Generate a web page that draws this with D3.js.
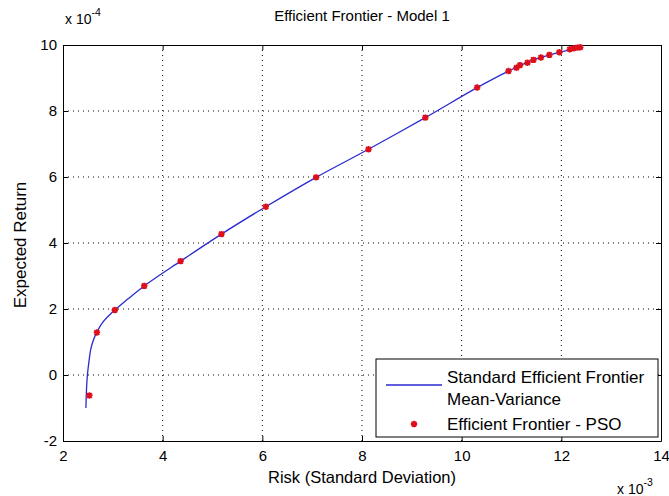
<!DOCTYPE html>
<html><head><meta charset="utf-8">
<script src="https://cdn.jsdelivr.net/npm/d3@7"></script>
<style>body{margin:0;background:#fff}svg{display:block}text{font-family:Arial,"Liberation Sans",sans-serif;fill:#000}</style>
</head><body><svg id="c" width="669" height="496"></svg>
<script>
// Data (x in units of 1e-3, y in units of 1e-4)
const frontierRisk   = [2.46,2.47,2.49,2.52,2.56,2.62,2.68,2.80,3.04,3.30,3.63,4.36,5.18,6.07,7.08,8.13,9.27,10.31,10.94,11.44,11.96,12.38];
const frontierReturn = [-1.0,-0.5,0.0,0.4,0.8,1.1,1.30,1.60,1.97,2.30,2.70,3.45,4.27,5.10,5.99,6.84,7.80,8.71,9.21,9.55,9.78,9.93];
const psoRisk   = [2.53,2.68,3.04,3.63,4.36,5.18,6.07,7.08,8.13,9.27,10.31,10.94,11.10,11.17,11.32,11.44,11.59,11.76,11.96,12.17,12.25,12.32,12.38];
const psoReturn = [-0.62,1.29,1.97,2.70,3.45,4.27,5.10,5.99,6.84,7.80,8.71,9.21,9.31,9.39,9.46,9.55,9.62,9.70,9.78,9.87,9.90,9.92,9.93];
const xTicks = [2,4,6,8,10,12,14];
const yTicks = [-2,0,2,4,6,8,10];

const svg = d3.select("#c");
const L=63,R=661,T=45,B=441;
const x = d3.scaleLinear().domain([2,14]).range([L,R]);
const y = d3.scaleLinear().domain([-2,10]).range([B,T]);
const fmt = d => String(d);

// grid
const g = svg.append("g");
g.selectAll(".gx").data(xTicks.slice(1,-1)).join("line")
 .attr("x1",d=>x(d)).attr("x2",d=>x(d)).attr("y1",T).attr("y2",B)
 .attr("stroke","#000").attr("stroke-width",1).attr("stroke-dasharray","1,4");
g.selectAll(".gy").data(yTicks.slice(1,-1)).join("line")
 .attr("y1",d=>y(d)).attr("y2",d=>y(d)).attr("x1",L).attr("x2",R)
 .attr("stroke","#000").attr("stroke-width",1).attr("stroke-dasharray","1,4");

// axes
const fs = 15;
const ax = svg.append("g").attr("transform",`translate(0,${B})`)
 .call(d3.axisBottom(x).tickValues(xTicks).tickFormat(fmt).tickSizeInner(-5).tickSizeOuter(0).tickPadding(9));
const axT = svg.append("g").attr("transform",`translate(0,${T})`)
 .call(d3.axisTop(x).tickValues(xTicks).tickSizeInner(-5).tickSizeOuter(0).tickFormat(""));
const ay = svg.append("g").attr("transform",`translate(${L},0)`)
 .call(d3.axisLeft(y).tickValues(yTicks).tickFormat(fmt).tickSizeInner(-5).tickSizeOuter(0).tickPadding(6));
const ayR = svg.append("g").attr("transform",`translate(${R},0)`)
 .call(d3.axisRight(y).tickValues(yTicks).tickSizeInner(-5).tickSizeOuter(0).tickFormat(""));
[ax,axT,ay,ayR].forEach(a=>{
  a.select(".domain").attr("stroke","#000");
  a.selectAll(".tick line").attr("stroke","#000");
  a.selectAll("text").attr("font-size",fs).attr("font-family","Arial, 'Liberation Sans', sans-serif");
});

// frontier line
const pts = frontierRisk.map((d,i)=>[d,frontierReturn[i]]);
svg.append("path").datum(pts)
 .attr("d",d3.line().x(d=>x(d[0])).y(d=>y(d[1])).curve(d3.curveCatmullRom))
 .attr("fill","none").attr("stroke","#2a2ad0").attr("stroke-width",1.3);

// asterisk marker
function star(sel,cx,cy){
  const r=3.2, r2=2.4;
  const p = `M${cx-r},${cy}L${cx+r},${cy}M${cx},${cy-r}L${cx},${cy+r}M${cx-r2},${cy-r2}L${cx+r2},${cy+r2}M${cx-r2},${cy+r2}L${cx+r2},${cy-r2}`;
  sel.append("path").attr("d",p).attr("stroke","#dd0f1c").attr("stroke-width",1.8).attr("fill","none");
}
const mg = svg.append("g");
psoRisk.forEach((d,i)=>star(mg,x(d),y(psoReturn[i])));

// title & labels
svg.append("text").attr("x",(L+R)/2).attr("y",21).attr("text-anchor","middle").attr("font-size",15).text("Efficient Frontier - Model 1");
svg.append("text").attr("x",(L+R)/2).attr("y",483).attr("text-anchor","middle").attr("font-size",16.5).text("Risk (Standard Deviation)");
svg.append("text").attr("transform",`translate(26,245) rotate(-90)`).attr("text-anchor","middle").attr("font-size",17).text("Expected Return");

// exponent labels
const e1 = svg.append("text").attr("x",65).attr("y",24).attr("font-size",14);
e1.append("tspan").text("x 10");
e1.append("tspan").attr("dy",-8).attr("font-size",10.5).text("-4");
const e2 = svg.append("text").attr("x",617).attr("y",494).attr("font-size",14);
e2.append("tspan").text("x 10");
e2.append("tspan").attr("dy",-8).attr("font-size",10.5).text("-3");

// legend
const lg = svg.append("g");
lg.append("rect").attr("x",376).attr("y",359).attr("width",282).attr("height",78).attr("fill","#fff").attr("stroke","#000").attr("stroke-width",1);
lg.append("line").attr("x1",386).attr("x2",442).attr("y1",385).attr("y2",385).attr("stroke","#2a2ad0").attr("stroke-width",1.3);
lg.append("text").attr("x",447).attr("y",383).attr("font-size",17).text("Standard Efficient Frontier");
lg.append("text").attr("x",447).attr("y",405).attr("font-size",17).text("Mean-Variance");
star(lg,414,424);
lg.append("text").attr("x",447).attr("y",430).attr("font-size",17).text("Efficient Frontier - PSO");
</script></body></html>
